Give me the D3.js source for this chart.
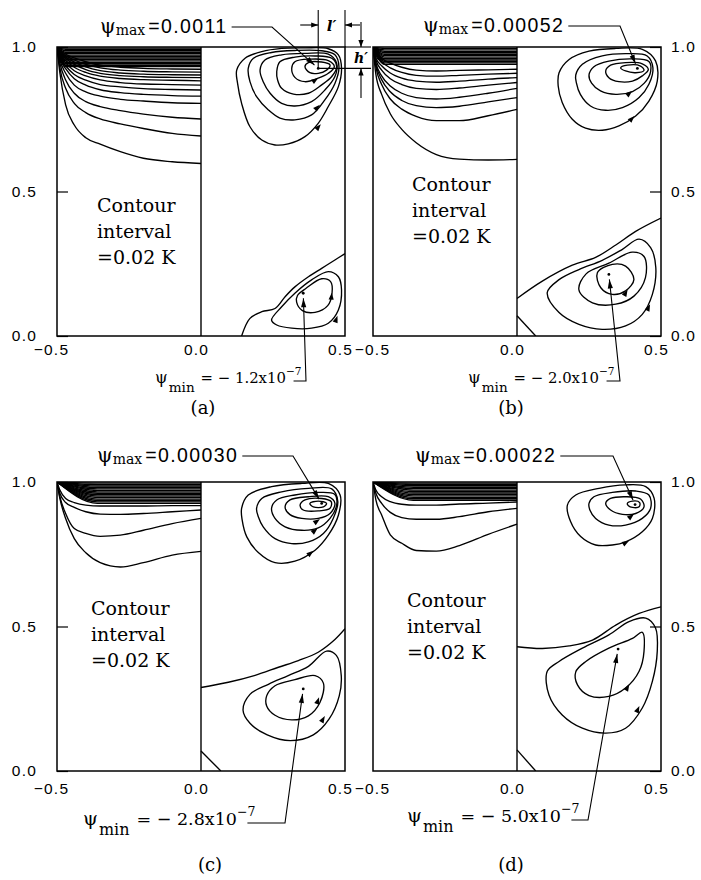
<!DOCTYPE html>
<html>
<head>
<meta charset="utf-8">
<script src="https://cdn.jsdelivr.net/npm/d3@7/dist/d3.min.js"></script>
<style>
  body { margin: 0; background: #fff; }
  svg { display: block; }
</style>
</head>
<body>
<svg id="chart" width="701" height="880"></svg>
<script>
// isotherms (left half): y value at each x station
const isoX = [-0.5, -0.49, -0.47, -0.44, -0.40, -0.35, -0.28, -0.20, -0.10, 0.0];

const isoA = [
    [1, 0.910, 0.800, 0.730, 0.686, 0.664, 0.638, 0.615, 0.603, 0.597],
    [1, 0.927, 0.857, 0.805, 0.773, 0.751, 0.734, 0.718, 0.701, 0.692],
    [1, 0.944, 0.886, 0.840, 0.811, 0.794, 0.780, 0.768, 0.757, 0.751],
    [1, 0.955, 0.909, 0.868, 0.845, 0.830, 0.819, 0.813, 0.807, 0.805],
    [1, 0.960, 0.925, 0.890, 0.868, 0.852, 0.842, 0.836, 0.832, 0.830],
    [1, 0.965, 0.935, 0.905, 0.885, 0.870, 0.862, 0.856, 0.853, 0.851],
    [1, 0.970, 0.945, 0.918, 0.900, 0.886, 0.877, 0.872, 0.870, 0.868],
    [1, 0.975, 0.953, 0.930, 0.912, 0.899, 0.891, 0.887, 0.885, 0.883],
    [1, 0.978, 0.960, 0.940, 0.922, 0.909, 0.901, 0.897, 0.895, 0.894],
    [1, 0.981, 0.965, 0.948, 0.931, 0.918, 0.910, 0.906, 0.904, 0.903],
    [1, 0.984, 0.970, 0.955, 0.940, 0.928, 0.920, 0.916, 0.914, 0.913],
    [1, 0.987, 0.975, 0.962, 0.949, 0.937, 0.930, 0.926, 0.924, 0.923]
];
const isoB = [
    [1, 0.905, 0.836, 0.769, 0.715, 0.669, 0.628, 0.612, 0.609, 0.611],
    [1, 0.930, 0.870, 0.820, 0.785, 0.760, 0.745, 0.745, 0.762, 0.784],
    [1, 0.940, 0.887, 0.845, 0.815, 0.797, 0.790, 0.795, 0.810, 0.825],
    [1, 0.945, 0.900, 0.865, 0.840, 0.825, 0.820, 0.826, 0.840, 0.857],
    [1, 0.955, 0.920, 0.890, 0.870, 0.857, 0.853, 0.858, 0.868, 0.877],
    [1, 0.962, 0.935, 0.910, 0.892, 0.882, 0.878, 0.882, 0.889, 0.894],
    [1, 0.970, 0.948, 0.928, 0.912, 0.902, 0.899, 0.902, 0.906, 0.909],
    [1, 0.977, 0.960, 0.944, 0.930, 0.920, 0.917, 0.919, 0.921, 0.923]
];
const isoC = [
    [1, 0.943, 0.874, 0.804, 0.755, 0.721, 0.706, 0.721, 0.747, 0.760],
    [1, 0.949, 0.891, 0.839, 0.822, 0.812, 0.816, 0.833, 0.856, 0.874],
    [1, 0.961, 0.929, 0.912, 0.897, 0.889, 0.888, 0.891, 0.897, 0.903],
    [1, 0.972, 0.943, 0.929, 0.920, 0.917, 0.917, 0.917, 0.918, 0.918]
];
const isoD = [
    [1, 0.938, 0.886, 0.817, 0.788, 0.763, 0.761, 0.780, 0.819, 0.854],
    [1, 0.961, 0.926, 0.895, 0.877, 0.871, 0.871, 0.880, 0.897, 0.909],
    [1, 0.972, 0.949, 0.932, 0.923, 0.920, 0.920, 0.924, 0.927, 0.931]
];

// the packed isotherms near the surface: level reached at x = 0
const denseA = [0.932, 0.937, 0.942, 0.947, 0.952, 0.957, 0.962, 0.967, 0.972, 0.977, 0.982, 0.987, 0.992, 0.996];
const denseB = [0.940, 0.945, 0.950, 0.955, 0.960, 0.965, 0.970, 0.975, 0.980, 0.985, 0.990, 0.995];
const denseC = [0.926, 0.931, 0.936, 0.941, 0.946, 0.951, 0.956, 0.961, 0.966, 0.971, 0.976, 0.981, 0.986, 0.991, 0.996];
const denseD = [0.937, 0.942, 0.947, 0.952, 0.957, 0.962, 0.967, 0.972, 0.977, 0.982, 0.987, 0.992, 0.996];

// streamlines (right half), closed loops as [x, y]
const upperA = [
    [[0.124,0.920],[0.153,0.961],[0.211,0.984],[0.280,0.995],[0.361,0.997],[0.442,0.994],[0.477,0.973],[0.488,0.926],[0.477,0.863],[0.442,0.794],[0.407,0.736],[0.361,0.690],[0.303,0.665],[0.257,0.661],[0.211,0.678],[0.170,0.724],[0.141,0.805],[0.127,0.874]],
    [[0.164,0.926],[0.182,0.961],[0.245,0.981],[0.326,0.988],[0.419,0.987],[0.465,0.973],[0.479,0.932],[0.465,0.874],[0.430,0.817],[0.384,0.765],[0.326,0.748],[0.274,0.754],[0.234,0.782],[0.193,0.828],[0.170,0.880]],
    [[0.205,0.920],[0.222,0.955],[0.280,0.973],[0.361,0.978],[0.442,0.975],[0.471,0.944],[0.465,0.898],[0.430,0.851],[0.384,0.811],[0.326,0.796],[0.280,0.805],[0.240,0.840],[0.216,0.880]],
    [[0.263,0.915],[0.274,0.949],[0.326,0.965],[0.396,0.969],[0.454,0.961],[0.471,0.932],[0.454,0.898],[0.419,0.869],[0.373,0.840],[0.321,0.837],[0.280,0.857],[0.266,0.886]],
    [[0.315,0.926],[0.326,0.949],[0.378,0.958],[0.442,0.953],[0.463,0.932],[0.442,0.909],[0.407,0.892],[0.361,0.880],[0.326,0.895]],
    [[0.361,0.932],[0.373,0.946],[0.419,0.948],[0.448,0.938],[0.436,0.920],[0.407,0.909],[0.378,0.911]]
];
const lowerA = [
    [[0.245,0.055],[0.280,0.101],[0.326,0.148],[0.384,0.194],[0.442,0.223],[0.477,0.205],[0.488,0.159],[0.477,0.090],[0.442,0.044],[0.384,0.027],[0.315,0.027],[0.263,0.038]],
    [[0.335,0.140],[0.365,0.165],[0.419,0.198],[0.450,0.188],[0.455,0.148],[0.440,0.105],[0.396,0.082],[0.352,0.088],[0.332,0.117]]
];
const openA = [
    [[0.141,0.0],[0.170,0.061],[0.211,0.084],[0.257,0.095],[0.292,0.136],[0.326,0.170],[0.373,0.205],[0.419,0.234],[0.465,0.263],[0.5,0.285]]
];

const upperB = [
    [[0.146,0.911],[0.181,0.957],[0.250,0.986],[0.343,0.995],[0.435,0.992],[0.481,0.952],[0.487,0.882],[0.458,0.813],[0.412,0.761],[0.354,0.727],[0.296,0.712],[0.238,0.719],[0.192,0.750],[0.157,0.808],[0.143,0.865]],
    [[0.204,0.903],[0.227,0.940],[0.296,0.969],[0.389,0.977],[0.452,0.969],[0.472,0.928],[0.458,0.871],[0.424,0.825],[0.366,0.790],[0.308,0.781],[0.255,0.796],[0.220,0.836],[0.206,0.877]],
    [[0.250,0.903],[0.267,0.932],[0.319,0.951],[0.400,0.959],[0.458,0.950],[0.464,0.915],[0.442,0.875],[0.401,0.846],[0.343,0.836],[0.290,0.848],[0.259,0.875]],
    [[0.308,0.917],[0.325,0.937],[0.377,0.946],[0.435,0.942],[0.456,0.922],[0.435,0.900],[0.401,0.882],[0.354,0.880],[0.319,0.894]],
    [[0.360,0.928],[0.383,0.937],[0.429,0.934],[0.441,0.919],[0.412,0.911],[0.377,0.917]]
];
const lowerB = [
    [[0.105,0.150],[0.146,0.195],[0.215,0.230],[0.296,0.262],[0.366,0.300],[0.424,0.335],[0.464,0.306],[0.482,0.236],[0.470,0.144],[0.435,0.075],[0.377,0.035],[0.296,0.023],[0.215,0.040],[0.146,0.081]],
    [[0.215,0.160],[0.240,0.215],[0.319,0.252],[0.400,0.290],[0.441,0.275],[0.446,0.202],[0.406,0.138],[0.343,0.110],[0.262,0.115]],
    [[0.279,0.219],[0.331,0.248],[0.377,0.242],[0.406,0.196],[0.377,0.156],[0.331,0.144],[0.291,0.167]]
];
const openB = [
    [[0.0,0.130],[0.088,0.190],[0.192,0.245],[0.273,0.272],[0.343,0.315],[0.412,0.362],[0.5,0.408]],
    [[0.0,0.070],[0.065,0.0]]
];

const upperC = [
    [[0.141,0.909],[0.164,0.955],[0.245,0.984],[0.350,0.995],[0.442,0.995],[0.483,0.955],[0.477,0.885],[0.442,0.816],[0.396,0.764],[0.326,0.726],[0.257,0.721],[0.199,0.756],[0.159,0.810],[0.143,0.868]],
    [[0.193,0.909],[0.211,0.943],[0.280,0.966],[0.373,0.978],[0.454,0.976],[0.475,0.932],[0.459,0.874],[0.425,0.822],[0.373,0.793],[0.315,0.787],[0.257,0.804],[0.216,0.845],[0.199,0.880]],
    [[0.245,0.909],[0.263,0.938],[0.326,0.955],[0.407,0.964],[0.465,0.957],[0.471,0.920],[0.448,0.874],[0.407,0.841],[0.350,0.833],[0.292,0.845],[0.257,0.874]],
    [[0.292,0.914],[0.309,0.938],[0.373,0.949],[0.442,0.949],[0.465,0.926],[0.448,0.891],[0.407,0.874],[0.350,0.874],[0.309,0.887]],
    [[0.344,0.920],[0.361,0.938],[0.419,0.943],[0.452,0.932],[0.448,0.909],[0.407,0.900],[0.355,0.903]],
    [[0.378,0.926],[0.407,0.934],[0.436,0.926],[0.425,0.914],[0.390,0.914]]
];
const lowerC = [
    [[0.146,0.210],[0.170,0.265],[0.234,0.300],[0.303,0.330],[0.373,0.362],[0.436,0.415],[0.470,0.400],[0.487,0.330],[0.480,0.260],[0.445,0.180],[0.390,0.125],[0.310,0.105],[0.230,0.125],[0.170,0.165]],
    [[0.228,0.260],[0.257,0.295],[0.326,0.316],[0.396,0.330],[0.425,0.304],[0.413,0.237],[0.373,0.191],[0.315,0.177],[0.257,0.193],[0.228,0.225]]
];
const openC = [
    [[0.0,0.289],[0.095,0.307],[0.188,0.331],[0.269,0.359],[0.338,0.382],[0.407,0.411],[0.465,0.455],[0.5,0.492]],
    [[0.0,0.069],[0.069,0.0]]
];

const upperD = [
    [[0.175,0.920],[0.204,0.955],[0.285,0.978],[0.377,0.990],[0.447,0.984],[0.476,0.944],[0.470,0.874],[0.435,0.828],[0.377,0.793],[0.331,0.782],[0.273,0.782],[0.221,0.811],[0.186,0.863]],
    [[0.250,0.926],[0.267,0.949],[0.331,0.964],[0.412,0.969],[0.458,0.955],[0.464,0.909],[0.435,0.874],[0.377,0.851],[0.319,0.851],[0.273,0.874],[0.253,0.903]],
    [[0.308,0.926],[0.325,0.943],[0.377,0.949],[0.429,0.941],[0.441,0.914],[0.412,0.891],[0.366,0.888],[0.325,0.903]],
    [[0.383,0.926],[0.401,0.934],[0.426,0.929],[0.424,0.914],[0.401,0.912],[0.387,0.918]]
];
const lowerD = [
    [[0.105,0.345],[0.146,0.379],[0.227,0.425],[0.319,0.471],[0.389,0.517],[0.447,0.529],[0.481,0.495],[0.487,0.414],[0.470,0.310],[0.435,0.218],[0.377,0.148],[0.308,0.131],[0.227,0.148],[0.157,0.194],[0.111,0.263]],
    [[0.204,0.343],[0.239,0.379],[0.319,0.425],[0.401,0.459],[0.435,0.480],[0.441,0.414],[0.424,0.345],[0.377,0.287],[0.319,0.258],[0.250,0.261],[0.210,0.298]]
];
const openD = [
    [[0.0,0.430],[0.088,0.424],[0.181,0.433],[0.262,0.453],[0.343,0.505],[0.424,0.545],[0.5,0.568]],
    [[0.0,0.073],[0.065,0.0]]
];

// flow direction marks [x, y, angle in degrees]
const arrowsA = [[0.407,0.893,-35],[0.413,0.800,-45],[0.416,0.733,-50],[0.454,0.150,-85],[0.474,0.070,-70]];
const arrowsB = [[0.400,0.848,-40],[0.408,0.761,-45],[0.384,0.160,-60],[0.462,0.110,-65]];
const arrowsC = [[0.413,0.872,-35],[0.405,0.840,-40],[0.390,0.762,-40],[0.410,0.255,-70],[0.430,0.190,-60]];
const arrowsD = [[0.389,0.797,-30],[0.406,0.889,-40],[0.390,0.300,-60],[0.425,0.225,-65]];

// stream function extrema
const centerMax = [[0.407,0.926],[0.418,0.926],[0.419,0.926],[0.410,0.922]];
const centerMin = [[0.355,0.148],[0.319,0.213],[0.355,0.284],[0.351,0.422]];
const psiMax = ["0.0011", "0.00052", "0.00030", "0.00022"];
const psiMin = ["1.2", "2.0", "2.8", "5.0"];
const captions = ["(a)", "(b)", "(c)", "(d)"];
const xTicks = [-0.5, 0, 0.5];
const yTicks = [0, 0.5, 1];

const sans = "'Liberation Sans', Arial, sans-serif";
const serif = "'DejaVu Serif', serif";

const layouts = [
    {left: 57,  top: 47,  side: "left",  knee: -0.47, xPad: 8,  negDx: -6, contour: [97, 212],  maxText: [100, 33],  maxElbow: 272, minText: [155, 383], minElbow: 306, minSize: 0.85, caption: [203, 414]},
    {left: 373, top: 47,  side: "right", knee: -0.46, xPad: 8,  negDx: -1, contour: [412, 191], maxText: [423, 32],  maxElbow: 620, minText: [468, 383], minElbow: 620, minSize: 0.85, caption: [511, 414]},
    {left: 57,  top: 482, side: "left",  knee: -0.36, xPad: 12, negDx: -6, contour: [91, 615],  maxText: [97, 462],  maxElbow: 293, minText: [83, 825],  minElbow: 285, minSize: 1, caption: [210, 871]},
    {left: 373, top: 482, side: "right", knee: -0.36, xPad: 12, negDx: -1, contour: [407, 607], maxText: [415, 462], maxElbow: 613, minText: [407, 822], minElbow: 588, minSize: 1, caption: [511, 871]}
];

class ContourPanel {
    constructor (svg, config) {
        this.svg = svg;
        this.config = config;
        this.initScales();
    }

    initScales () {
        const L = this.config.layout;
        this.x = d3.scaleLinear().domain([-0.5, 0.5]).range([L.left, L.left + 288]);
        this.y = d3.scaleLinear().domain([0, 1]).range([L.top + 289, L.top]);
        this.g = this.svg.append("g");
        this.g.append("clipPath").attr("id", "clip-" + this.config.id)
            .append("rect")
            .attr("x", L.left).attr("y", L.top).attr("width", 288).attr("height", 289);
    }

    render () {
        this.drawIsotherms();
        this.drawStreamlines();
        this.drawFrame();
        this.drawAxes();
        this.drawTexts();
        this.drawPsiMax();
        this.drawPsiMin();
        if (this.config.gap) this.drawGap();
    }

    drawIsotherms () {
        const c = this.config;
        const line = d3.line().x(d => this.x(d[0])).y(d => this.y(d[1])).curve(d3.curveMonotoneX);
        const g = this.g.append("g").attr("clip-path", "url(#clip-" + c.id + ")")
            .attr("fill", "none").attr("stroke", "#000").attr("stroke-width", 1.35);
        g.selectAll("path.iso").data(c.iso).enter().append("path").attr("class", "iso")
            .attr("d", ys => line(isoX.map((xv, i) => [xv, ys[i]])));
        g.selectAll("path.dense").data(c.dense).enter().append("path").attr("class", "dense")
            .attr("d", lv => line([[-0.5, 1], [c.layout.knee, lv], [0, lv]]));
    }

    drawStreamlines () {
        const c = this.config;
        const closed = d3.line().x(d => this.x(d[0])).y(d => this.y(d[1])).curve(d3.curveCatmullRomClosed.alpha(0.5));
        const open = d3.line().x(d => this.x(d[0])).y(d => this.y(d[1])).curve(d3.curveCatmullRom.alpha(0.5));
        const g = this.g.append("g").attr("clip-path", "url(#clip-" + c.id + ")")
            .attr("fill", "none").attr("stroke", "#000").attr("stroke-width", 1.35);
        g.selectAll("path.loop").data(c.upper.concat(c.lower)).enter().append("path").attr("class", "loop")
            .attr("d", closed);
        g.selectAll("path.open").data(c.open).enter().append("path").attr("class", "open")
            .attr("d", open);
        c.arrows.forEach(a => this.arrowHead(this.x(a[0]), this.y(a[1]), a[2], 7, 2.6));
        this.dot(this.x(c.maxC[0]), this.y(c.maxC[1]));
        this.dot(this.x(c.minC[0]), this.y(c.minC[1]));
    }

    drawFrame () {
        const L = this.config.layout;
        this.g.append("rect")
            .attr("x", L.left).attr("y", L.top).attr("width", 288).attr("height", 289)
            .attr("fill", "none").attr("stroke", "#000").attr("stroke-width", 1.5);
        this.g.append("line")
            .attr("x1", this.x(0)).attr("x2", this.x(0))
            .attr("y1", this.y(0)).attr("y2", this.y(1))
            .attr("stroke", "#000").attr("stroke-width", 1.4);
    }

    drawAxes () {
        const L = this.config.layout;
        const fmt = d3.format(".1f");
        const yAxis = L.side === "left"
            ? d3.axisLeft(this.y).tickValues(yTicks).tickSize(-11).tickPadding(20).tickFormat(fmt)
            : d3.axisRight(this.y).tickValues(yTicks).tickSize(-11).tickPadding(10).tickFormat(fmt);
        const yg = this.g.append("g")
            .attr("transform", "translate(" + (L.side === "left" ? L.left : L.left + 288) + ",0)")
            .call(yAxis);
        const xg = this.g.append("g")
            .attr("transform", "translate(0," + (L.top + 289) + ")")
            .call(d3.axisBottom(this.x).tickValues(xTicks).tickSize(0).tickPadding(L.xPad).tickFormat(fmt));
        [yg, xg].forEach(ax => {
            ax.select(".domain").remove();
            ax.selectAll("line").attr("stroke", "#000").attr("stroke-width", 1.2);
            ax.selectAll("text")
                .attr("font-family", sans).attr("font-size", 15.5)
                .attr("fill", "#000").style("letter-spacing", "1.2px");
        });
        xg.selectAll("text").attr("dx", d => d < 0 ? L.negDx : -5);
    }

    drawTexts () {
        const L = this.config.layout;
        const t = this.g.append("text")
            .attr("font-family", serif).attr("font-size", 19).attr("fill", "#000");
        ["Contour", "interval", "=0.02 K"].forEach((s, i) => {
            t.append("tspan").attr("x", L.contour[0]).attr("y", L.contour[1] + i * 26).text(s);
        });
        this.g.append("text")
            .attr("x", L.caption[0]).attr("y", L.caption[1])
            .attr("text-anchor", "middle")
            .attr("font-family", serif).attr("font-size", 18)
            .text(this.config.caption);
    }

    drawPsiMax () {
        const c = this.config, L = c.layout;
        const t = this.g.append("text").attr("x", L.maxText[0]).attr("y", L.maxText[1]).attr("fill", "#000");
        t.append("tspan").attr("font-family", serif).attr("font-size", 20).text("ψ");
        t.append("tspan").attr("font-family", serif).attr("font-size", 14).attr("dy", 2).text("max");
        t.append("tspan").attr("font-family", sans).attr("font-size", 19.5).attr("dy", -2).attr("dx", 3)
            .style("letter-spacing", "1.4px").text("=" + c.psiMax);
        const bb = t.node().getBBox();
        const ey = L.maxText[1] - 6;
        this.leader([[bb.x + bb.width + 4, ey], [L.maxElbow, ey], [this.x(c.maxC[0]), this.y(c.maxC[1])]]);
    }

    drawPsiMin () {
        const c = this.config, L = c.layout, k = L.minSize;
        const t = this.g.append("text").attr("x", L.minText[0]).attr("y", L.minText[1])
            .attr("font-family", serif).attr("fill", "#000");
        t.append("tspan").attr("font-size", 19 * k).text("ψ");
        t.append("tspan").attr("font-size", 16 * k).attr("dy", 10 * k).attr("dx", 1).text("min");
        t.append("tspan").attr("font-size", 17.5 * k).attr("dy", -10 * k).attr("dx", 7 * k).text("= − " + c.psiMin + "x10");
        t.append("tspan").attr("font-size", 12.5 * k).attr("dy", -9 * k).text("−7");
        const bb = t.node().getBBox();
        const ey = L.minText[1] - 2;
        const x0 = Math.min(bb.x + bb.width - 8, L.minElbow);
        this.leader([[x0, ey], [L.minElbow, ey], [this.x(c.minC[0]), this.y(c.minC[1])]]);
    }

    // l' and h' : distance of the psi max centre from the side wall and the surface
    drawGap () {
        const c = this.config;
        const cx = this.x(c.maxC[0]), cy = this.y(c.maxC[1]);
        const rx = this.x(0.5), ty = this.y(1);
        const top = 10, ay = 25, far = 371, hx = 361;
        const seg = (x1, y1, x2, y2) => this.g.append("line")
            .attr("x1", x1).attr("y1", y1).attr("x2", x2).attr("y2", y2)
            .attr("stroke", "#000").attr("stroke-width", 1.1);
        seg(cx, cy, cx, top);
        seg(rx, ty, rx, top);
        seg(cx, cy, far, cy);
        seg(rx, ty, far, ty);
        seg(cx - 18, ay, cx, ay); this.arrowHead(cx, ay, 0, 7, 2.6);
        seg(rx + 15, ay, rx, ay); this.arrowHead(rx, ay, 180, 7, 2.6);
        seg(hx, top + 12, hx, ty); this.arrowHead(hx, ty, 90, 7, 2.6);
        seg(hx, 98, hx, cy); this.arrowHead(hx, cy, -90, 7, 2.6);
        this.g.append("text").attr("x", (cx + rx) / 2).attr("y", 31).attr("text-anchor", "middle")
            .attr("font-family", serif).attr("font-size", 15).attr("font-weight", "bold").attr("font-style", "italic")
            .text("l′");
        this.g.append("text").attr("x", hx).attr("y", (cy + ty) / 2 + 5).attr("text-anchor", "middle")
            .attr("font-family", serif).attr("font-size", 14).attr("font-weight", "bold").attr("font-style", "italic")
            .text("h′");
    }

    leader (pts) {
        const p1 = pts[pts.length - 2], p2 = pts[pts.length - 1];
        const ang = Math.atan2(p2[1] - p1[1], p2[0] - p1[0]);
        const tip = [p2[0] - 5 * Math.cos(ang), p2[1] - 5 * Math.sin(ang)];
        this.g.append("path")
            .attr("d", d3.line()(pts.slice(0, -1).concat([tip])))
            .attr("fill", "none").attr("stroke", "#000").attr("stroke-width", 1.1);
        this.arrowHead(tip[0], tip[1], ang * 180 / Math.PI, 9, 2.6);
    }

    arrowHead (x, y, deg, len, half) {
        this.g.append("path")
            .attr("d", "M0,0L" + (-len) + "," + (-half) + "L" + (-len) + "," + half + "Z")
            .attr("transform", "translate(" + x + "," + y + ") rotate(" + deg + ")")
            .attr("fill", "#000");
    }

    dot (x, y) {
        this.g.append("circle").attr("cx", x).attr("cy", y).attr("r", 1.4).attr("fill", "#000");
    }
}

const svg = d3.select("#chart");
svg.append("rect").attr("width", 701).attr("height", 880).attr("fill", "#fff");

const isoSets = [isoA, isoB, isoC, isoD];
const denseSets = [denseA, denseB, denseC, denseD];
const upperSets = [upperA, upperB, upperC, upperD];
const lowerSets = [lowerA, lowerB, lowerC, lowerD];
const openSets = [openA, openB, openC, openD];
const arrowSets = [arrowsA, arrowsB, arrowsC, arrowsD];

["a", "b", "c", "d"].forEach((id, i) => {
    new ContourPanel(svg, {
        id: id,
        caption: captions[i],
        layout: layouts[i],
        iso: isoSets[i],
        dense: denseSets[i],
        upper: upperSets[i],
        lower: lowerSets[i],
        open: openSets[i],
        arrows: arrowSets[i],
        maxC: centerMax[i],
        minC: centerMin[i],
        psiMax: psiMax[i],
        psiMin: psiMin[i],
        gap: i === 0
    }).render();
});
</script>
</body>
</html>
